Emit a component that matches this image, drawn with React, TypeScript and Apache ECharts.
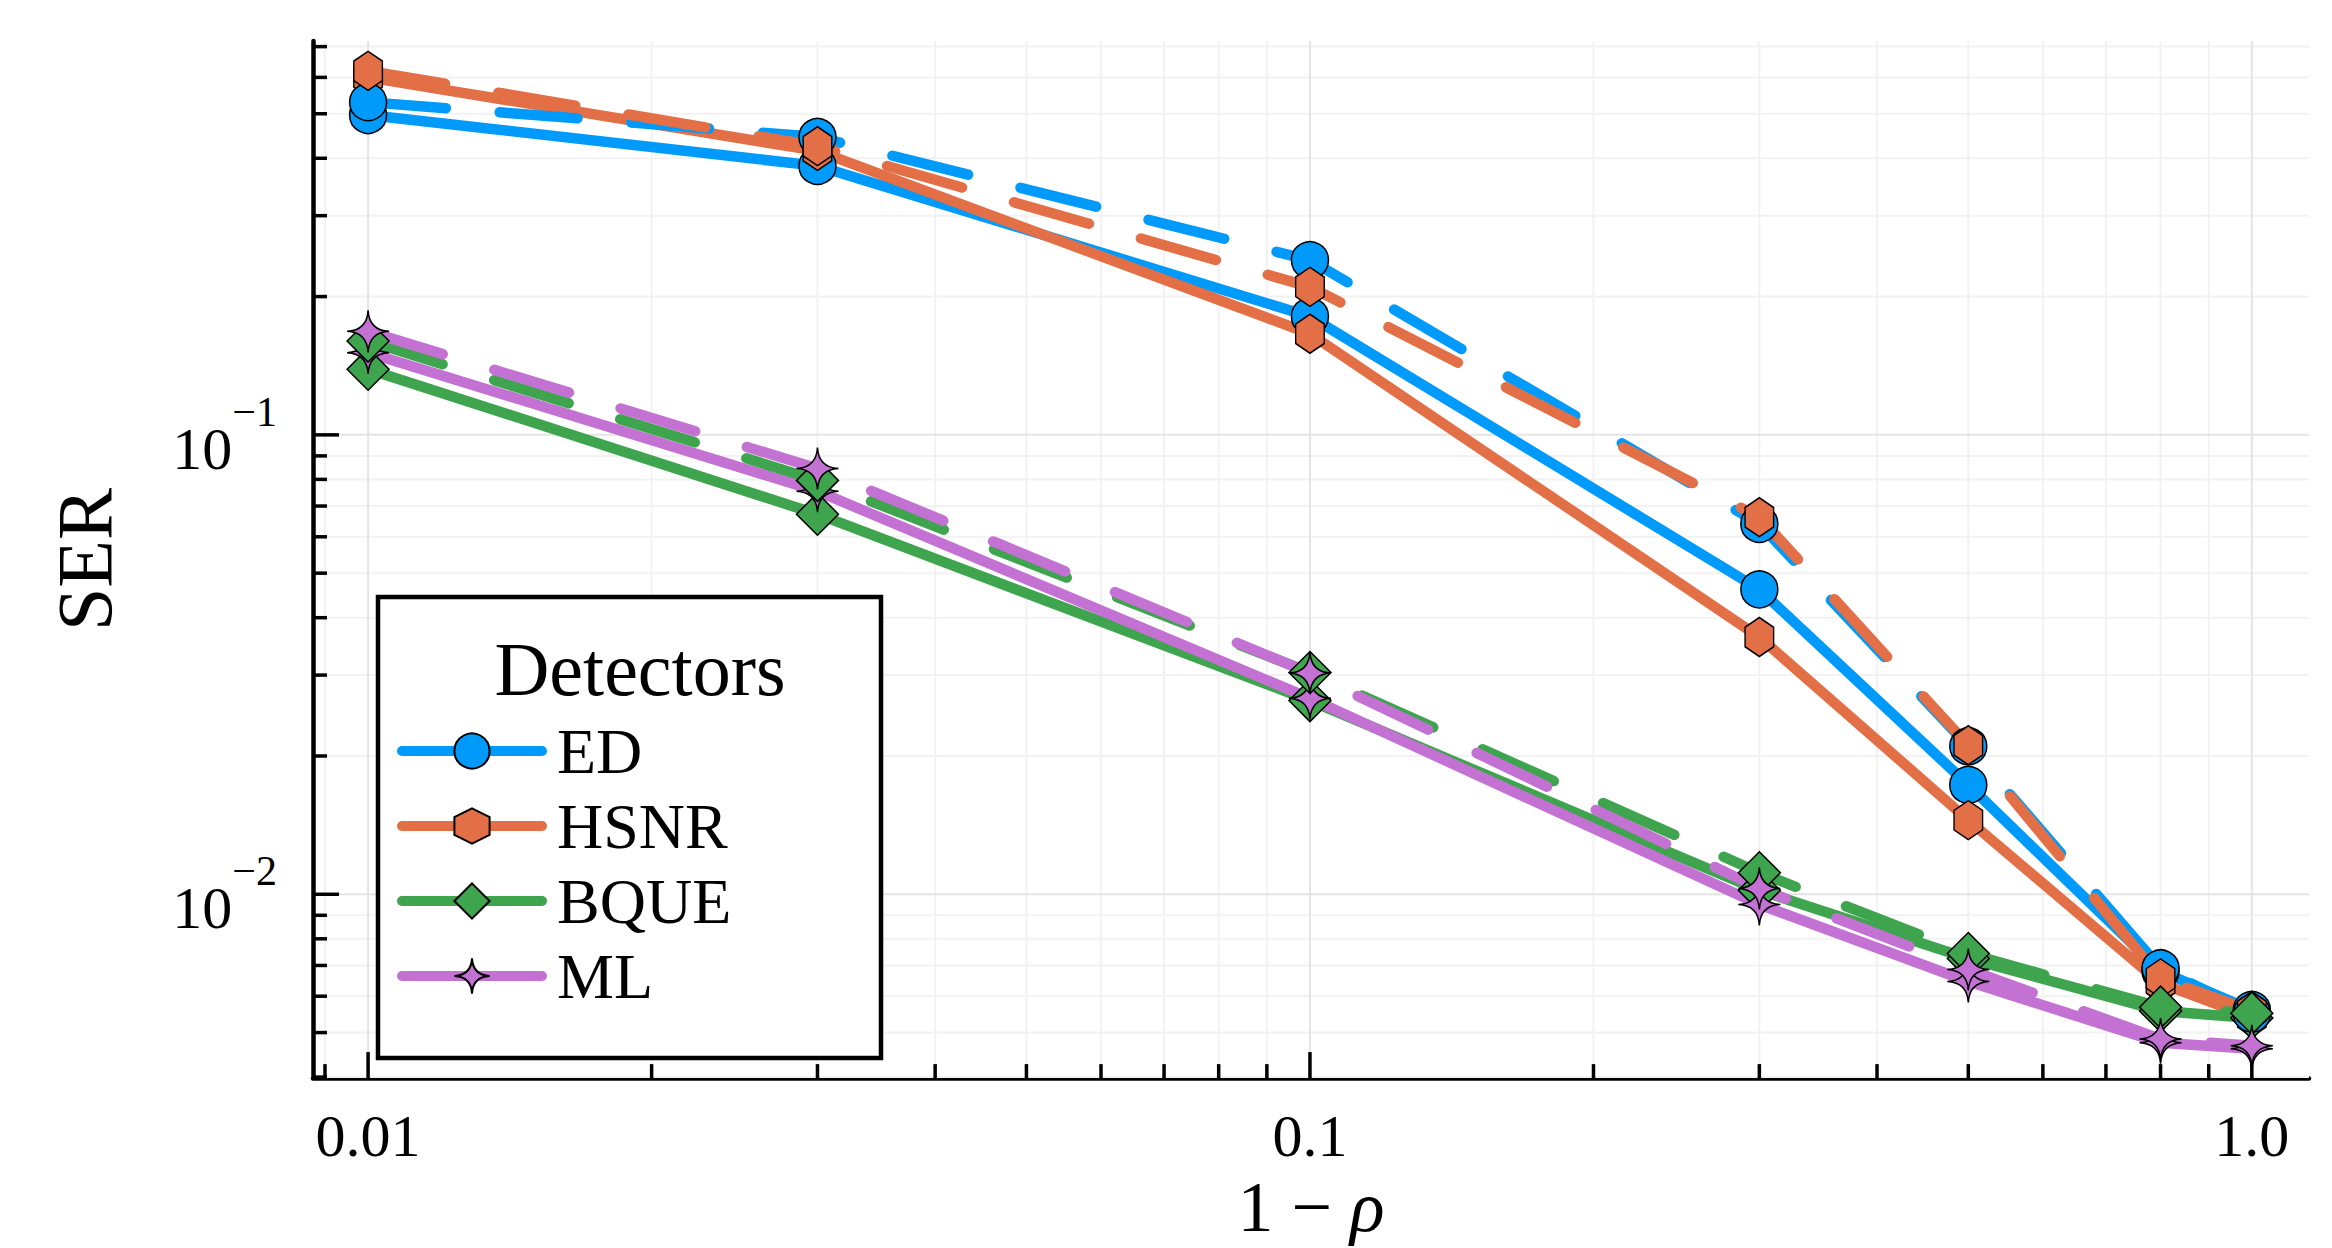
import React, { useEffect, useRef } from "react";
import * as echarts from "echarts";

// ---------- data ----------
const X = [0.01, 0.03, 0.1, 0.3, 0.5, 0.8, 1.0];

const ED_SOLID = [0.497, 0.385, 0.181, 0.0461, 0.0173, 0.0068, 0.0056];
const ED_DASH = [0.53, 0.445, 0.24, 0.064, 0.021, 0.0069, 0.0055];
const HSNR_SOLID = [0.6, 0.415, 0.166, 0.0363, 0.0145, 0.0064, 0.0054];
const HSNR_DASH = [0.62, 0.425, 0.21, 0.0662, 0.0211, 0.00656, 0.00557];
const BQUE_SOLID = [0.139, 0.0672, 0.0264, 0.0102, 0.00725, 0.00557, 0.00538];
const BQUE_DASH = [0.16, 0.0796, 0.0304, 0.01114, 0.00743, 0.00568, 0.00551];
const ML_SOLID = [0.151, 0.0754, 0.0267, 0.0095, 0.00646, 0.00475, 0.00461];
const ML_DASH = [0.168, 0.0845, 0.0303, 0.0103, 0.00686, 0.00484, 0.00468];

const X_MAJOR = [0.01, 0.1, 1.0];
const X_MINOR = [
  0.009, 0.02, 0.03, 0.04, 0.05, 0.06, 0.07, 0.08, 0.09,
  0.2, 0.3, 0.4, 0.5, 0.6, 0.7, 0.8, 0.9,
];
const Y_MAJOR = [0.01, 0.1];
const Y_MINOR = [
  0.004, 0.005, 0.006, 0.007, 0.008, 0.009,
  0.02, 0.03, 0.04, 0.05, 0.06, 0.07, 0.08, 0.09,
  0.2, 0.3, 0.4, 0.5, 0.6, 0.7,
];

const NAMES = ["ED", "HSNR", "BQUE", "ML"];
const COLORS = ["#009AFA", "#E36F47", "#3EA44E", "#C371D2"];
const SOLID = [ED_SOLID, HSNR_SOLID, BQUE_SOLID, ML_SOLID];
const DASHED = [ED_DASH, HSNR_DASH, BQUE_DASH, ML_DASH];

const HEX = "path://M0,-1 L0.866,-0.5 L0.866,0.5 L0,1 L-0.866,0.5 L-0.866,-0.5 Z";
const STAR4 =
  "path://M0,-1 Q0.05,-0.05 1,0 Q0.05,0.05 0,1 Q-0.05,0.05 -1,0 Q-0.05,-0.05 0,-1 Z";
const SYMBOLS = ["circle", HEX, "diamond", STAR4];
const SYMBOL_SIZES: any[] = [37, [33, 39], 42, 42];

const FONT = "Liberation Serif";
const LW = 10.5;

function isPow10(v: number) {
  const l = Math.log10(v);
  return Math.abs(l - Math.round(l)) < 1e-6;
}

export default function App() {
  const ref = useRef<HTMLDivElement>(null);

  useEffect(() => {
    if (!ref.current) return;
    const chart = echarts.init(ref.current, null, { renderer: "svg" });

    const pts = (ys: number[]) => X.map((x, i) => [x, ys[i]]);

    const lineSeries: any[] = [];
    const mk = (i: number, dashed: boolean) => ({
      type: "line",
      name: dashed ? NAMES[i] + " (dashed)" : NAMES[i],
      data: pts(dashed ? DASHED[i] : SOLID[i]),
      z: 3,
      symbol: SYMBOLS[i],
      symbolSize: SYMBOL_SIZES[i],
      symbolKeepAspect: true,
      showAllSymbol: true,
      color: COLORS[i],
      itemStyle: { color: COLORS[i], borderColor: "#000", borderWidth: 1.5 },
      lineStyle: {
        color: COLORS[i],
        width: LW,
        type: dashed ? [78, 54] : "solid",
        cap: "round",
        join: "round",
      },
      emphasis: { disabled: true },
    });
    for (let i = 0; i < 4; i++) lineSeries.push(mk(i, false));
    for (let i = 0; i < 4; i++) lineSeries.push(mk(i, true));

    const gridSeries = {
      type: "custom",
      name: "grid",
      z: 1,
      silent: true,
      data: [[0.1, 0.1]],
      renderItem: (params: any, api: any) => {
        const cs = params.coordSys;
        const left = cs.x;
        const top = cs.y;
        const right = cs.x + cs.width;
        const bottom = cs.y + cs.height;
        const children: any[] = [];
        const gl = (x1: number, y1: number, x2: number, y2: number, c: string, w: number) =>
          children.push({
            type: "line",
            shape: { x1, y1, x2, y2 },
            style: { stroke: c, lineWidth: w },
          });
        X_MINOR.forEach((v) => {
          const px = api.coord([v, 0.1])[0];
          gl(px, top, px, bottom, "#f2f2f2", 2);
        });
        Y_MINOR.forEach((v) => {
          const py = api.coord([0.1, v])[1];
          gl(left, py, right, py, "#f2f2f2", 2);
        });
        X_MAJOR.forEach((v) => {
          const px = api.coord([v, 0.1])[0];
          gl(px, top, px, bottom, "#e4e4e4", 2);
        });
        Y_MAJOR.forEach((v) => {
          const py = api.coord([0.1, v])[1];
          gl(left, py, right, py, "#e4e4e4", 2);
        });
        // ticks
        X_MINOR.forEach((v) => {
          const px = api.coord([v, 0.1])[0];
          gl(px, bottom, px, bottom - 14, "#000", 3.5);
        });
        X_MAJOR.forEach((v) => {
          const px = api.coord([v, 0.1])[0];
          gl(px, bottom, px, bottom - 26, "#000", 3.5);
        });
        Y_MINOR.forEach((v) => {
          const py = api.coord([0.1, v])[1];
          gl(left, py, left + 14, py, "#000", 3.5);
        });
        Y_MAJOR.forEach((v) => {
          const py = api.coord([0.1, v])[1];
          gl(left, py, left + 26, py, "#000", 3.5);
        });
        return { type: "group", children };
      },
    };

    const option: any = {
      animation: false,
      backgroundColor: "#ffffff",
      textStyle: { fontFamily: FONT, color: "#000" },
      grid: { left: 313, top: 41, right: 23, bottom: 160, containLabel: false },
      xAxis: {
        type: "log",
        logBase: 10,
        min: 0.00874,
        max: 1.15,
        name: "1 − {i|ρ}",
        nameLocation: "middle",
        nameGap: 92,
        nameTextStyle: {
          fontFamily: FONT,
          fontSize: 72,
          color: "#000",
          rich: { i: { fontFamily: FONT, fontSize: 72, fontStyle: "italic", color: "#000" } },
        },
        axisLine: { onZero: false, lineStyle: { color: "#000", width: 4.5 } },
        axisTick: { show: false },
        splitLine: { show: false },
        minorTick: { show: false },
        axisLabel: {
          show: true,
          margin: 28,
          fontFamily: FONT,
          fontSize: 60,
          color: "#000",
          showMinLabel: false,
          showMaxLabel: false,
          formatter: (v: number) => {
            if (!isPow10(v)) return "";
            const e = Math.round(Math.log10(v));
            if (e === 0) return "1.0";
            if (e === -1) return "0.1";
            if (e === -2) return "0.01";
            return String(v);
          },
        },
      },
      yAxis: {
        type: "log",
        logBase: 10,
        min: 0.00398,
        max: 0.72,
        name: "SER",
        nameLocation: "middle",
        nameRotate: 90,
        nameGap: 190,
        nameTextStyle: { fontFamily: FONT, fontSize: 78, color: "#000" },
        axisLine: { onZero: false, lineStyle: { color: "#000", width: 4.5 } },
        axisTick: { show: false },
        splitLine: { show: false },
        minorTick: { show: false },
        axisLabel: {
          show: true,
          margin: 36,
          showMinLabel: false,
          showMaxLabel: false,
          formatter: (v: number) => {
            if (!isPow10(v)) return "";
            const e = Math.round(Math.log10(v));
            if (e >= 0) return "";
            return "{b|10}{s|−" + -e + "}";
          },
          rich: {
            b: { fontFamily: FONT, fontSize: 60, lineHeight: 88, color: "#000", verticalAlign: "bottom" },
            s: { fontFamily: FONT, fontSize: 42, lineHeight: 42, color: "#000", verticalAlign: "top" },
          },
        },
      },
      legend: {
        show: true,
        data: NAMES,
        orient: "vertical",
        left: 397,
        top: 719,
        padding: 0,
        itemWidth: 140,
        itemHeight: 44,
        itemGap: 11,
        z: 6,
        selectedMode: false,
        lineStyle: { width: 10, cap: "round" },
        textStyle: {
          fontFamily: FONT,
          fontSize: 64,
          color: "#000",
          padding: [0, 0, 0, 10],
        },
      },
      graphic: [
        {
          type: "rect",
          z: 5,
          shape: { x: 378, y: 597, width: 503, height: 461 },
          style: { fill: "#ffffff", stroke: "#000", lineWidth: 4.5 },
        },
        {
          type: "text",
          z: 7,
          x: 640,
          y: 669,
          style: {
            text: "Detectors",
            fontFamily: FONT,
            fontSize: 76,
            lineHeight: 60,
            fill: "#000",
            textAlign: "center",
            textVerticalAlign: "middle",
          },
        },
      ],
      series: [gridSeries, ...lineSeries],
    };

    chart.setOption(option);
    return () => chart.dispose();
  }, []);

  return (
    <div
      ref={ref}
      style={{ position: "fixed", left: 0, top: 0, width: 2332, height: 1248, background: "#fff" }}
    />
  );
}
